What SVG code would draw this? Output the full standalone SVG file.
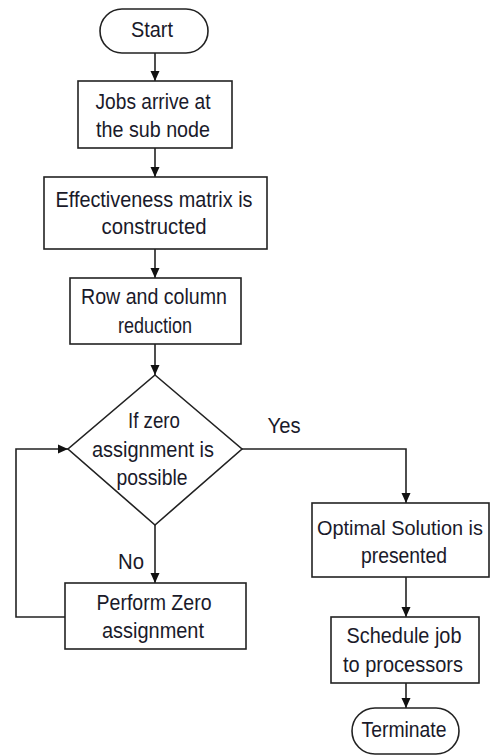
<svg xmlns="http://www.w3.org/2000/svg" width="490" height="756" viewBox="0 0 490 756">
<defs>
<marker id="ah" markerUnits="userSpaceOnUse" markerWidth="10" markerHeight="10" refX="10" refY="5" orient="auto">
<path d="M0,0.5 L10,5 L0,9.5 z" fill="#111"/>
</marker>
<style>
rect, polygon { fill: #fff; stroke: #222; stroke-width: 1.6; }
.c { fill: none; stroke: #222; stroke-width: 1.6; marker-end: url(#ah); }
text { font-family: "Liberation Sans", Arial, sans-serif; font-size: 21.5px; fill: #1a1a2a; text-anchor: middle; }
</style>
</defs>
<rect x="0" y="0" width="490" height="756" style="fill:#fff;stroke:none"/>
<g id="connectors">
<path class="c" d="M155,53 V81"/>
<path class="c" d="M155,148 V177"/>
<path class="c" d="M155,249 V278"/>
<path class="c" d="M155,344 V375"/>
<path class="c" d="M242,449 H406 V503"/>
<path class="c" d="M155,525 V583"/>
<path class="c" d="M65,617 H16 V449 H68"/>
<path class="c" d="M406,577 V617"/>
<path class="c" d="M406,683 V708"/>
</g>
<g id="start"><rect x="100" y="9" width="108" height="44" rx="22"/><text x="152" y="37" textLength="42" lengthAdjust="spacingAndGlyphs">Start</text></g>
<g id="jobs"><rect x="78" y="81" width="154" height="67"/><text x="153" y="109" textLength="115" lengthAdjust="spacingAndGlyphs">Jobs arrive at</text><text x="153" y="137" textLength="114" lengthAdjust="spacingAndGlyphs">the sub node</text></g>
<g id="matrix"><rect x="44" y="177" width="223" height="72"/><text x="154" y="207" textLength="197" lengthAdjust="spacingAndGlyphs">Effectiveness matrix is</text><text x="154" y="234" textLength="105" lengthAdjust="spacingAndGlyphs">constructed</text></g>
<g id="reduction"><rect x="70" y="278" width="171" height="66"/><text x="154" y="304" textLength="146" lengthAdjust="spacingAndGlyphs">Row and column</text><text x="155" y="333" textLength="74" lengthAdjust="spacingAndGlyphs">reduction</text></g>
<g id="decision"><polygon points="155,375 242,449 155,525 68,449"/><text x="154" y="428" textLength="52" lengthAdjust="spacingAndGlyphs">If zero</text><text x="153" y="457" textLength="122" lengthAdjust="spacingAndGlyphs">assignment is</text><text x="152" y="485" textLength="71" lengthAdjust="spacingAndGlyphs">possible</text></g>
<g id="yes-label"><text x="284" y="433" textLength="33" lengthAdjust="spacingAndGlyphs">Yes</text></g>
<g id="no-label"><text x="131" y="569" textLength="26" lengthAdjust="spacingAndGlyphs">No</text></g>
<g id="perform"><rect x="65" y="583" width="181" height="66"/><text x="154" y="610" textLength="115" lengthAdjust="spacingAndGlyphs">Perform Zero</text><text x="153" y="638" textLength="102" lengthAdjust="spacingAndGlyphs">assignment</text></g>
<g id="optimal"><rect x="312" y="503" width="177" height="74"/><text x="400" y="535" style="font-size:20px" textLength="166" lengthAdjust="spacingAndGlyphs">Optimal Solution is</text><text x="404" y="563" textLength="86" lengthAdjust="spacingAndGlyphs">presented</text></g>
<g id="schedule"><rect x="331" y="617" width="148" height="66"/><text x="404" y="643" textLength="115" lengthAdjust="spacingAndGlyphs">Schedule job</text><text x="403" y="672" textLength="120" lengthAdjust="spacingAndGlyphs">to processors</text></g>
<g id="terminate"><rect x="352" y="708" width="107" height="46" rx="23"/><text x="404" y="737" textLength="85" lengthAdjust="spacingAndGlyphs">Terminate</text></g>
</svg>
